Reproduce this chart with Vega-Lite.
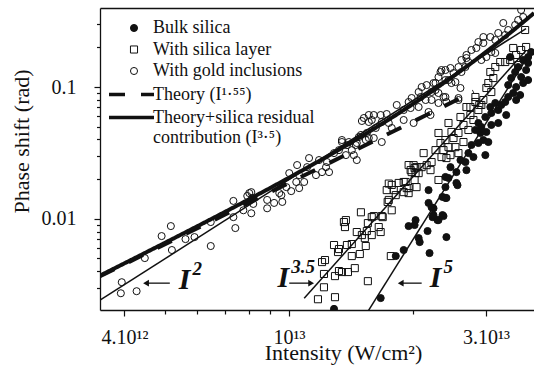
{
  "$schema": "https://vega.github.io/schema/vega-lite/v6.json",
  "width": 434,
  "height": 302,
  "autosize": {"type": "none"},
  "padding": {"left": 100, "top": 8, "right": 0, "bottom": 60},
  "background": "white",
  "config": {
    "view": {"stroke": null},
    "font": "Liberation Serif",
    "axis": {"grid": false, "domainColor": "#111", "domainWidth": 1.3, "tickColor": "#111", "tickWidth": 1.2, "labelColor": "#111", "titleColor": "#111", "labelFont": "Liberation Serif", "titleFont": "Liberation Serif", "titleFontWeight": "normal"},
    "legend": {"labelFont": "Liberation Serif", "labelColor": "#111", "labelFontSize": 18, "labelLimit": 400, "padding": 0}
  },
  "datasets": {
    "pts": [
      {"I":3.94,"phi":0.0033,"sample":"With gold inclusions"},{"I":3.92,"phi":0.00272,"sample":"With gold inclusions"},{"I":4.28,"phi":0.00282,"sample":"With gold inclusions"},{"I":4.48,"phi":0.00503,"sample":"With gold inclusions"},{"I":4.92,"phi":0.00739,"sample":"With gold inclusions"},{"I":5.18,"phi":0.0088,"sample":"With gold inclusions"},{"I":5.21,"phi":0.00579,"sample":"With gold inclusions"},{"I":5.62,"phi":0.00701,"sample":"With gold inclusions"},{"I":5.91,"phi":0.00726,"sample":"With gold inclusions"},{"I":6.47,"phi":0.00944,"sample":"With gold inclusions"},{"I":6.47,"phi":0.00621,"sample":"With gold inclusions"},{"I":7.34,"phi":0.01366,"sample":"With gold inclusions"},{"I":7.34,"phi":0.01029,"sample":"With gold inclusions"},{"I":7.42,"phi":0.0085,"sample":"With gold inclusions"},{"I":7.93,"phi":0.0149,"sample":"With gold inclusions"},{"I":8.11,"phi":0.01593,"sample":"With gold inclusions"},{"I":7.76,"phi":0.0116,"sample":"With gold inclusions"},{"I":8.11,"phi":0.01101,"sample":"With gold inclusions"},{"I":8.2,"phi":0.01296,"sample":"With gold inclusions"},{"I":8.86,"phi":0.01201,"sample":"With gold inclusions"},{"I":8.86,"phi":0.0139,"sample":"With gold inclusions"},{"I":8.02,"phi":0.01566,"sample":"With gold inclusions"},{"I":8.15,"phi":0.01439,"sample":"With gold inclusions"},{"I":9.21,"phi":0.01319,"sample":"With gold inclusions"},{"I":9.59,"phi":0.01512,"sample":"With gold inclusions"},{"I":9.64,"phi":0.01342,"sample":"With gold inclusions"},{"I":10.02,"phi":0.02221,"sample":"With gold inclusions"},{"I":10.47,"phi":0.02557,"sample":"With gold inclusions"},{"I":10.59,"phi":0.02145,"sample":"With gold inclusions"},{"I":10.42,"phi":0.01902,"sample":"With gold inclusions"},{"I":10.13,"phi":0.01621,"sample":"With gold inclusions"},{"I":11.07,"phi":0.02466,"sample":"With gold inclusions"},{"I":11.19,"phi":0.02889,"sample":"With gold inclusions"},{"I":11.63,"phi":0.02145,"sample":"With gold inclusions"},{"I":11.83,"phi":0.0279,"sample":"With gold inclusions"},{"I":12.3,"phi":0.02466,"sample":"With gold inclusions"},{"I":12.03,"phi":0.0226,"sample":"With gold inclusions"},{"I":12.51,"phi":0.0226,"sample":"With gold inclusions"},{"I":12.37,"phi":0.02694,"sample":"With gold inclusions"},{"I":12.86,"phi":0.03151,"sample":"With gold inclusions"},{"I":13.22,"phi":0.0332,"sample":"With gold inclusions"},{"I":13.44,"phi":0.03824,"sample":"With gold inclusions"},{"I":13.82,"phi":0.03622,"sample":"With gold inclusions"},{"I":13.74,"phi":0.03043,"sample":"With gold inclusions"},{"I":14.2,"phi":0.0332,"sample":"With gold inclusions"},{"I":14.36,"phi":0.03043,"sample":"With gold inclusions"},{"I":14.6,"phi":0.03758,"sample":"With gold inclusions"},{"I":14.94,"phi":0.04326,"sample":"With gold inclusions"},{"I":15.35,"phi":0.0396,"sample":"With gold inclusions"},{"I":15.61,"phi":0.04101,"sample":"With gold inclusions"},{"I":14.6,"phi":0.0279,"sample":"With gold inclusions"},{"I":15.02,"phi":0.05523,"sample":"With gold inclusions"},{"I":15.61,"phi":0.06131,"sample":"With gold inclusions"},{"I":15.87,"phi":0.0562,"sample":"With gold inclusions"},{"I":16.23,"phi":0.04888,"sample":"With gold inclusions"},{"I":15.44,"phi":0.04479,"sample":"With gold inclusions"},{"I":10.59,"phi":0.01709,"sample":"With gold inclusions"},{"I":10.89,"phi":0.01902,"sample":"With gold inclusions"},{"I":9.86,"phi":0.01739,"sample":"With gold inclusions"},{"I":9.48,"phi":0.01566,"sample":"With gold inclusions"},{"I":15.19,"phi":0.0582,"sample":"With gold inclusions"},{"I":15.61,"phi":0.05427,"sample":"With gold inclusions"},{"I":16.05,"phi":0.06131,"sample":"With gold inclusions"},{"I":16.68,"phi":0.06131,"sample":"With gold inclusions"},{"I":17.25,"phi":0.06239,"sample":"With gold inclusions"},{"I":16.78,"phi":0.05427,"sample":"With gold inclusions"},{"I":17.45,"phi":0.05333,"sample":"With gold inclusions"},{"I":17.74,"phi":0.04888,"sample":"With gold inclusions"},{"I":18.24,"phi":0.07305,"sample":"With gold inclusions"},{"I":18.96,"phi":0.0669,"sample":"With gold inclusions"},{"I":19.49,"phi":0.07697,"sample":"With gold inclusions"},{"I":19.82,"phi":0.08253,"sample":"With gold inclusions"},{"I":20.61,"phi":0.09165,"sample":"With gold inclusions"},{"I":20.96,"phi":0.1,"sample":"With gold inclusions"},{"I":21.55,"phi":0.1035,"sample":"With gold inclusions"},{"I":20.84,"phi":0.08398,"sample":"With gold inclusions"},{"I":21.43,"phi":0.0797,"sample":"With gold inclusions"},{"I":20.61,"phi":0.07049,"sample":"With gold inclusions"},{"I":19.71,"phi":0.06928,"sample":"With gold inclusions"},{"I":21.78,"phi":0.06461,"sample":"With gold inclusions"},{"I":22.02,"phi":0.06131,"sample":"With gold inclusions"},{"I":22.15,"phi":0.09165,"sample":"With gold inclusions"},{"I":22.64,"phi":0.1072,"sample":"With gold inclusions"},{"I":23.02,"phi":0.09006,"sample":"With gold inclusions"},{"I":23.67,"phi":0.08398,"sample":"With gold inclusions"},{"I":24.06,"phi":0.07697,"sample":"With gold inclusions"},{"I":23.28,"phi":0.13,"sample":"With gold inclusions"},{"I":23.93,"phi":0.1346,"sample":"With gold inclusions"},{"I":24.61,"phi":0.1394,"sample":"With gold inclusions"},{"I":25.03,"phi":0.1277,"sample":"With gold inclusions"},{"I":24.34,"phi":0.113,"sample":"With gold inclusions"},{"I":25.3,"phi":0.1091,"sample":"With gold inclusions"},{"I":25.73,"phi":0.0797,"sample":"With gold inclusions"},{"I":26.16,"phi":0.13,"sample":"With gold inclusions"},{"I":26.75,"phi":0.1418,"sample":"With gold inclusions"},{"I":26.9,"phi":0.166,"sample":"With gold inclusions"},{"I":13.44,"phi":0.0396,"sample":"With gold inclusions"},{"I":13.97,"phi":0.03824,"sample":"With gold inclusions"},{"I":14.52,"phi":0.03629,"sample":"With gold inclusions"},{"I":14.77,"phi":0.04173,"sample":"With gold inclusions"},{"I":16.78,"phi":0.03824,"sample":"With gold inclusions"},{"I":16.05,"phi":0.04101,"sample":"With gold inclusions"},{"I":20.04,"phi":0.05333,"sample":"With gold inclusions"},{"I":18.96,"phi":0.0562,"sample":"With gold inclusions"},{"I":36.49,"phi":0.3844,"sample":"With gold inclusions"},{"I":33.03,"phi":0.3062,"sample":"With gold inclusions"},{"I":33.95,"phi":0.2709,"sample":"With gold inclusions"},{"I":35.29,"phi":0.2958,"sample":"With gold inclusions"},{"I":35.89,"phi":0.3227,"sample":"With gold inclusions"},{"I":36.9,"phi":0.34,"sample":"With gold inclusions"},{"I":32.12,"phi":0.2571,"sample":"With gold inclusions"},{"I":31.59,"phi":0.2274,"sample":"With gold inclusions"},{"I":30.73,"phi":0.2396,"sample":"With gold inclusions"},{"I":29.56,"phi":0.2158,"sample":"With gold inclusions"},{"I":28.75,"phi":0.2196,"sample":"With gold inclusions"},{"I":28.43,"phi":0.1978,"sample":"With gold inclusions"},{"I":27.66,"phi":0.191,"sample":"With gold inclusions"},{"I":26.9,"phi":0.1751,"sample":"With gold inclusions"},{"I":26.16,"phi":0.1603,"sample":"With gold inclusions"},{"I":27.2,"phi":0.1548,"sample":"With gold inclusions"},{"I":25.73,"phi":0.1418,"sample":"With gold inclusions"},{"I":23.41,"phi":0.1346,"sample":"With gold inclusions"},{"I":23.02,"phi":0.1191,"sample":"With gold inclusions"},{"I":23.93,"phi":0.113,"sample":"With gold inclusions"},{"I":22.39,"phi":0.1072,"sample":"With gold inclusions"},{"I":22.64,"phi":0.0949,"sample":"With gold inclusions"},{"I":24.75,"phi":0.1072,"sample":"With gold inclusions"},{"I":26.02,"phi":0.0983,"sample":"With gold inclusions"},{"I":23.93,"phi":0.084,"sample":"With gold inclusions"},{"I":22.15,"phi":0.0797,"sample":"With gold inclusions"},{"I":23.02,"phi":0.07564,"sample":"With gold inclusions"},{"I":30.06,"phi":0.1689,"sample":"With gold inclusions"},{"I":29.23,"phi":0.1603,"sample":"With gold inclusions"},{"I":30.9,"phi":0.1844,"sample":"With gold inclusions"},{"I":31.59,"phi":0.1813,"sample":"With gold inclusions"},{"I":25.73,"phi":0.0825,"sample":"With gold inclusions"},{"I":29.56,"phi":0.2396,"sample":"With gold inclusions"},{"I":33.39,"phi":0.2483,"sample":"With gold inclusions"},
      {"I":11.76,"phi":0.00245,"sample":"With silica layer"},{"I":12.93,"phi":0.00254,"sample":"With silica layer"},{"I":12.16,"phi":0.00302,"sample":"With silica layer"},{"I":12.93,"phi":0.00367,"sample":"With silica layer"},{"I":12.16,"phi":0.00381,"sample":"With silica layer"},{"I":13.22,"phi":0.00401,"sample":"With silica layer"},{"I":13.44,"phi":0.00394,"sample":"With silica layer"},{"I":13.9,"phi":0.00394,"sample":"With silica layer"},{"I":14.44,"phi":0.00422,"sample":"With silica layer"},{"I":15.53,"phi":0.00336,"sample":"With silica layer"},{"I":12.03,"phi":0.00469,"sample":"With silica layer"},{"I":12.23,"phi":0.00486,"sample":"With silica layer"},{"I":12.86,"phi":0.00632,"sample":"With silica layer"},{"I":13.22,"phi":0.00589,"sample":"With silica layer"},{"I":13.15,"phi":0.00559,"sample":"With silica layer"},{"I":13.82,"phi":0.00632,"sample":"With silica layer"},{"I":14.2,"phi":0.00643,"sample":"With silica layer"},{"I":14.2,"phi":0.00521,"sample":"With silica layer"},{"I":14.85,"phi":0.0054,"sample":"With silica layer"},{"I":15.35,"phi":0.00621,"sample":"With silica layer"},{"I":15.27,"phi":0.00713,"sample":"With silica layer"},{"I":15.02,"phi":0.00752,"sample":"With silica layer"},{"I":15.87,"phi":0.00752,"sample":"With silica layer"},{"I":14.6,"phi":0.00793,"sample":"With silica layer"},{"I":15.44,"phi":0.00807,"sample":"With silica layer"},{"I":13.67,"phi":0.00865,"sample":"With silica layer"},{"I":13.59,"phi":0.00944,"sample":"With silica layer"},{"I":13.74,"phi":0.00977,"sample":"With silica layer"},{"I":14.94,"phi":0.0112,"sample":"With silica layer"},{"I":15.53,"phi":0.00927,"sample":"With silica layer"},{"I":15.87,"phi":0.01029,"sample":"With silica layer"},{"I":16.5,"phi":0.00865,"sample":"With silica layer"},{"I":16.68,"phi":0.00793,"sample":"With silica layer"},{"I":16.87,"phi":0.01029,"sample":"With silica layer"},{"I":17.74,"phi":0.0116,"sample":"With silica layer"},{"I":17.34,"phi":0.01342,"sample":"With silica layer"},{"I":17.65,"phi":0.00521,"sample":"With silica layer"},{"I":17.45,"phi":0.0139,"sample":"With silica layer"},{"I":18.96,"phi":0.01593,"sample":"With silica layer"},{"I":19.49,"phi":0.01566,"sample":"With silica layer"},{"I":17.25,"phi":0.0165,"sample":"With silica layer"},{"I":17.74,"phi":0.01806,"sample":"With silica layer"},{"I":16.05,"phi":0.01048,"sample":"With silica layer"},{"I":16.78,"phi":0.01048,"sample":"With silica layer"},{"I":17.45,"phi":0.0185,"sample":"With silica layer"},{"I":17.94,"phi":0.0165,"sample":"With silica layer"},{"I":18.44,"phi":0.0187,"sample":"With silica layer"},{"I":19.17,"phi":0.01902,"sample":"With silica layer"},{"I":19.49,"phi":0.01709,"sample":"With silica layer"},{"I":18.14,"phi":0.01512,"sample":"With silica layer"},{"I":19.71,"phi":0.0234,"sample":"With silica layer"},{"I":20.04,"phi":0.02553,"sample":"With silica layer"},{"I":20.37,"phi":0.02466,"sample":"With silica layer"},{"I":20.26,"phi":0.02221,"sample":"With silica layer"},{"I":21.19,"phi":0.03151,"sample":"With silica layer"},{"I":19.49,"phi":0.02557,"sample":"With silica layer"},{"I":20.15,"phi":0.02423,"sample":"With silica layer"},{"I":19.82,"phi":0.0226,"sample":"With silica layer"},{"I":20.61,"phi":0.02221,"sample":"With silica layer"},{"I":20.96,"phi":0.02466,"sample":"With silica layer"},{"I":21.55,"phi":0.02553,"sample":"With silica layer"},{"I":22.15,"phi":0.02694,"sample":"With silica layer"},{"I":18.96,"phi":0.01902,"sample":"With silica layer"},{"I":19.28,"phi":0.01709,"sample":"With silica layer"},{"I":20.15,"phi":0.0197,"sample":"With silica layer"},{"I":20.37,"phi":0.01739,"sample":"With silica layer"},{"I":23.02,"phi":0.0197,"sample":"With silica layer"},{"I":23.28,"phi":0.03758,"sample":"With silica layer"},{"I":23.67,"phi":0.0332,"sample":"With silica layer"},{"I":23.93,"phi":0.0396,"sample":"With silica layer"},{"I":24.34,"phi":0.03498,"sample":"With silica layer"},{"I":23.41,"phi":0.0294,"sample":"With silica layer"},{"I":24.06,"phi":0.02889,"sample":"With silica layer"},{"I":24.61,"phi":0.03043,"sample":"With silica layer"},{"I":25.03,"phi":0.04101,"sample":"With silica layer"},{"I":25.3,"phi":0.03498,"sample":"With silica layer"},{"I":24.75,"phi":0.04558,"sample":"With silica layer"},{"I":25.73,"phi":0.04479,"sample":"With silica layer"},{"I":26.02,"phi":0.05922,"sample":"With silica layer"},{"I":26.46,"phi":0.05151,"sample":"With silica layer"},{"I":27.2,"phi":0.0472,"sample":"With silica layer"},{"I":26.9,"phi":0.07049,"sample":"With silica layer"},{"I":27.5,"phi":0.06131,"sample":"With silica layer"},{"I":27.97,"phi":0.0562,"sample":"With silica layer"},{"I":28.75,"phi":0.0669,"sample":"With silica layer"},{"I":28.28,"phi":0.07697,"sample":"With silica layer"},{"I":29.23,"phi":0.07305,"sample":"With silica layer"},{"I":22.64,"phi":0.0332,"sample":"With silica layer"},{"I":22.02,"phi":0.0234,"sample":"With silica layer"},{"I":23.02,"phi":0.04479,"sample":"With silica layer"},{"I":24.34,"phi":0.05333,"sample":"With silica layer"},{"I":26.46,"phi":0.03824,"sample":"With silica layer"},{"I":25.73,"phi":0.03151,"sample":"With silica layer"},{"I":37.31,"phi":0.2709,"sample":"With silica layer"},{"I":37.52,"phi":0.2013,"sample":"With silica layer"},{"I":36.49,"phi":0.191,"sample":"With silica layer"},{"I":35.49,"phi":0.1751,"sample":"With silica layer"},{"I":34.33,"phi":0.1603,"sample":"With silica layer"},{"I":33.39,"phi":0.1548,"sample":"With silica layer"},{"I":32.48,"phi":0.1548,"sample":"With silica layer"},{"I":31.59,"phi":0.1418,"sample":"With silica layer"},{"I":30.73,"phi":0.13,"sample":"With silica layer"},{"I":31.25,"phi":0.117,"sample":"With silica layer"},{"I":30.39,"phi":0.1072,"sample":"With silica layer"},{"I":30.06,"phi":0.0983,"sample":"With silica layer"},{"I":30.9,"phi":0.09165,"sample":"With silica layer"},{"I":29.56,"phi":0.0797,"sample":"With silica layer"},{"I":28.9,"phi":0.07305,"sample":"With silica layer"},{"I":27.5,"phi":0.07049,"sample":"With silica layer"},{"I":28.28,"phi":0.08398,"sample":"With silica layer"},{"I":34.91,"phi":0.1978,"sample":"With silica layer"},{"I":35.89,"phi":0.1469,"sample":"With silica layer"},
      {"I":16.68,"phi":0.0025,"sample":"Bulk silica"},{"I":12.86,"phi":0.00207,"sample":"Bulk silica"},{"I":18.14,"phi":0.00521,"sample":"Bulk silica"},{"I":18.96,"phi":0.00579,"sample":"Bulk silica"},{"I":19.49,"phi":0.0088,"sample":"Bulk silica"},{"I":20.26,"phi":0.00977,"sample":"Bulk silica"},{"I":20.61,"phi":0.00713,"sample":"Bulk silica"},{"I":20.73,"phi":0.00665,"sample":"Bulk silica"},{"I":21.9,"phi":0.00549,"sample":"Bulk silica"},{"I":21.66,"phi":0.00807,"sample":"Bulk silica"},{"I":22.27,"phi":0.01029,"sample":"Bulk silica"},{"I":22.39,"phi":0.01201,"sample":"Bulk silica"},{"I":21.78,"phi":0.01319,"sample":"Bulk silica"},{"I":22.89,"phi":0.00977,"sample":"Bulk silica"},{"I":23.67,"phi":0.01048,"sample":"Bulk silica"},{"I":24.06,"phi":0.00726,"sample":"Bulk silica"},{"I":23.54,"phi":0.01465,"sample":"Bulk silica"},{"I":23.93,"phi":0.01739,"sample":"Bulk silica"},{"I":25.59,"phi":0.018,"sample":"Bulk silica"},{"I":23.93,"phi":0.01439,"sample":"Bulk silica"},{"I":20.15,"phi":0.00896,"sample":"Bulk silica"},{"I":22.39,"phi":0.01066,"sample":"Bulk silica"},{"I":23.02,"phi":0.00977,"sample":"Bulk silica"},{"I":23.54,"phi":0.01066,"sample":"Bulk silica"},{"I":22.15,"phi":0.01222,"sample":"Bulk silica"},{"I":21.78,"phi":0.0165,"sample":"Bulk silica"},{"I":24.06,"phi":0.01439,"sample":"Bulk silica"},{"I":23.93,"phi":0.02076,"sample":"Bulk silica"},{"I":24.34,"phi":0.0204,"sample":"Bulk silica"},{"I":25.44,"phi":0.0187,"sample":"Bulk silica"},{"I":24.61,"phi":0.02466,"sample":"Bulk silica"},{"I":25.44,"phi":0.0226,"sample":"Bulk silica"},{"I":26.02,"phi":0.0279,"sample":"Bulk silica"},{"I":26.75,"phi":0.02694,"sample":"Bulk silica"},{"I":27.2,"phi":0.03151,"sample":"Bulk silica"},{"I":27.97,"phi":0.0294,"sample":"Bulk silica"},{"I":26.9,"phi":0.0234,"sample":"Bulk silica"},{"I":27.66,"phi":0.03629,"sample":"Bulk silica"},{"I":28.75,"phi":0.03758,"sample":"Bulk silica"},{"I":29.56,"phi":0.0396,"sample":"Bulk silica"},{"I":29.07,"phi":0.04479,"sample":"Bulk silica"},{"I":29.89,"phi":0.03043,"sample":"Bulk silica"},{"I":30.06,"phi":0.04558,"sample":"Bulk silica"},{"I":30.39,"phi":0.03824,"sample":"Bulk silica"},{"I":28.28,"phi":0.0472,"sample":"Bulk silica"},{"I":28.75,"phi":0.05333,"sample":"Bulk silica"},{"I":29.23,"phi":0.04973,"sample":"Bulk silica"},{"I":29.89,"phi":0.05922,"sample":"Bulk silica"},{"I":30.9,"phi":0.06349,"sample":"Bulk silica"},{"I":30.73,"phi":0.07049,"sample":"Bulk silica"},{"I":32.12,"phi":0.0669,"sample":"Bulk silica"},{"I":32.66,"phi":0.07305,"sample":"Bulk silica"},{"I":33.58,"phi":0.06131,"sample":"Bulk silica"},{"I":33.39,"phi":0.07697,"sample":"Bulk silica"},{"I":31.59,"phi":0.07564,"sample":"Bulk silica"},{"I":35.49,"phi":0.0797,"sample":"Bulk silica"},{"I":32.12,"phi":0.05333,"sample":"Bulk silica"},{"I":30.9,"phi":0.05151,"sample":"Bulk silica"},{"I":37.94,"phi":0.1689,"sample":"Bulk silica"},{"I":36.9,"phi":0.1603,"sample":"Bulk silica"},{"I":35.89,"phi":0.1418,"sample":"Bulk silica"},{"I":35.29,"phi":0.13,"sample":"Bulk silica"},{"I":36.49,"phi":0.1191,"sample":"Bulk silica"},{"I":37.52,"phi":0.1346,"sample":"Bulk silica"},{"I":34.52,"phi":0.117,"sample":"Bulk silica"},{"I":33.95,"phi":0.1036,"sample":"Bulk silica"},{"I":35.49,"phi":0.1,"sample":"Bulk silica"},{"I":36.9,"phi":0.1072,"sample":"Bulk silica"},{"I":37.94,"phi":0.113,"sample":"Bulk silica"},{"I":34.91,"phi":0.09006,"sample":"Bulk silica"},{"I":36.29,"phi":0.08698,"sample":"Bulk silica"},{"I":33.95,"phi":0.08398,"sample":"Bulk silica"},{"I":37.94,"phi":0.1521,"sample":"Bulk silica"},{"I":34.33,"phi":0.1689,"sample":"Bulk silica"},{"I":38.58,"phi":0.1844,"sample":"Bulk silica"}
    ],
    "theory": [
      {"I":3.49,"phi":0.003658,"model":"Theory (I¹·⁵⁵)"},
      {"I":28,"phi":0.09225,"model":"Theory (I¹·⁵⁵)"},
      {"I":3.49,"phi":0.003702,"model":"Theory+silica residual contribution (I³·⁵)"},
      {"I":4,"phi":0.004589,"model":"Theory+silica residual contribution (I³·⁵)"},
      {"I":5,"phi":0.006541,"model":"Theory+silica residual contribution (I³·⁵)"},
      {"I":6,"phi":0.008764,"model":"Theory+silica residual contribution (I³·⁵)"},
      {"I":7,"phi":0.01126,"model":"Theory+silica residual contribution (I³·⁵)"},
      {"I":8,"phi":0.01403,"model":"Theory+silica residual contribution (I³·⁵)"},
      {"I":9,"phi":0.01709,"model":"Theory+silica residual contribution (I³·⁵)"},
      {"I":10,"phi":0.02045,"model":"Theory+silica residual contribution (I³·⁵)"},
      {"I":12,"phi":0.02812,"model":"Theory+silica residual contribution (I³·⁵)"},
      {"I":14,"phi":0.03718,"model":"Theory+silica residual contribution (I³·⁵)"},
      {"I":16,"phi":0.04781,"model":"Theory+silica residual contribution (I³·⁵)"},
      {"I":18,"phi":0.0602,"model":"Theory+silica residual contribution (I³·⁵)"},
      {"I":20,"phi":0.07456,"model":"Theory+silica residual contribution (I³·⁵)"},
      {"I":22,"phi":0.09112,"model":"Theory+silica residual contribution (I³·⁵)"},
      {"I":25,"phi":0.1206,"model":"Theory+silica residual contribution (I³·⁵)"},
      {"I":28,"phi":0.1565,"model":"Theory+silica residual contribution (I³·⁵)"},
      {"I":31,"phi":0.1998,"model":"Theory+silica residual contribution (I³·⁵)"},
      {"I":34,"phi":0.2515,"model":"Theory+silica residual contribution (I³·⁵)"},
      {"I":37,"phi":0.3126,"model":"Theory+silica residual contribution (I³·⁵)"},
      {"I":39.2,"phi":0.3642,"model":"Theory+silica residual contribution (I³·⁵)"}
    ],
    "fits": [
      {"I":3.49,"phi":0.00241,"law":"I2"},{"I":37.5,"phi":0.2781,"law":"I2"},
      {"I":10.89,"phi":0.002496,"law":"I3.5"},{"I":37.5,"phi":0.1891,"law":"I3.5"},
      {"I":15.3,"phi":0.001836,"law":"I5"},{"I":37.5,"phi":0.1624,"law":"I5"}
    ],
    "ann": [
      {"I":5.59,"phi":0.00342,"base":"I","sup":"2"},
      {"I":9.69,"phi":0.00354,"base":"I","sup":"3.5"},
      {"I":22.64,"phi":0.00354,"base":"I","sup":"5"}
    ],
    "arrows": [
      {"I":4.51,"I2":5.15,"phi":0.003246,"dir":"left"},
      {"I":11.32,"I2":10.02,"phi":0.003246,"dir":"right"},
      {"I":18.65,"I2":20.96,"phi":0.003246,"dir":"left"}
    ]
  },
  "layer": [
    {
      "encoding": {
        "x": {"field": "I", "type": "quantitative", "scale": {"type": "log", "domain": [3.49, 39.2], "nice": false},
          "axis": {"orient": "bottom", "values": [4,5,6,7,8,9,10,20,30], "labelExpr": "datum.value == 4 ? '4.10¹²' : datum.value == 10 ? '10¹³' : datum.value == 30 ? '3.10¹³' : ''",
            "tickSize": {"condition": {"test": "datum.value == 4 || datum.value == 10 || datum.value == 30", "value": 6}, "value": 4},
            "labelFontSize": 20, "labelBaseline": "alphabetic", "labelPadding": 27, "labelFlush": false, "labelOverlap": false,
            "title": "Intensity (W/cm²)", "titleFontSize": 22, "titleX": 243, "titleY": 49, "titleBaseline": "alphabetic", "titleAlign": "center"}},
        "y": {"field": "phi", "type": "quantitative", "scale": {"type": "log", "domain": [0.00203, 0.398], "nice": false},
          "axis": {"values": [0.003,0.004,0.005,0.006,0.007,0.008,0.009,0.01,0.02,0.03,0.04,0.05,0.06,0.07,0.08,0.09,0.1,0.2,0.3],
            "labelExpr": "datum.value == 0.01 ? '0.01' : datum.value == 0.1 ? '0.1' : ''",
            "tickSize": {"condition": {"test": "datum.value == 0.01 || datum.value == 0.1", "value": 6}, "value": 3.5},
            "labelFontSize": 20, "labelPadding": 18, "labelOverlap": false, "labelFlush": false,
            "title": "Phase shift (rad)", "titleFontSize": 22, "titleX": -72, "titleY": 133, "titleAngle": 270, "titleBaseline": "alphabetic", "titleAlign": "center"}}
      },
      "layer": [
        {
          "data": {"name": "pts"},
          "mark": {"type": "point", "opacity": 1, "strokeWidth": 1, "size": 50, "clip": true},
          "encoding": {
            "shape": {"field": "sample", "type": "nominal",
              "scale": {"domain": ["Bulk silica", "With silica layer", "With gold inclusions"], "range": ["circle", "square", "circle"]},
              "legend": {"title": null, "orient": "none", "legendX": 25, "legendY": 11, "labelOffset": 10, "rowPadding": 3.5, "symbolSize": 50, "symbolStrokeWidth": 1, "symbolOpacity": 1}},
            "fill": {"field": "sample", "type": "nominal",
              "scale": {"domain": ["Bulk silica", "With silica layer", "With gold inclusions"], "range": ["#111", "transparent", "transparent"]},
              "legend": {"title": null, "orient": "none", "legendX": 25, "legendY": 11, "labelOffset": 10, "rowPadding": 3.5, "symbolSize": 50, "symbolStrokeWidth": 1, "symbolOpacity": 1}},
            "stroke": {"field": "sample", "type": "nominal",
              "scale": {"domain": ["Bulk silica", "With silica layer", "With gold inclusions"], "range": ["#111", "#111", "#111"]},
              "legend": {"title": null, "orient": "none", "legendX": 25, "legendY": 11, "labelOffset": 10, "rowPadding": 3.5, "symbolSize": 50, "symbolStrokeWidth": 1, "symbolOpacity": 1}}
          }
        },
        {
          "data": {"name": "theory"},
          "transform": [{"filter": "indexof(datum.model, 'residual') < 0"}],
          "mark": {"type": "line", "color": "#111", "strokeWidth": 4, "clip": true},
          "encoding": {
            "strokeDash": {"field": "model", "type": "nominal",
              "scale": {"domain": ["Theory (I¹·⁵⁵)"], "range": [[16, 16]]},
              "legend": {"title": null, "orient": "none", "legendX": 7, "legendY": 62, "symbolType": "stroke", "symbolSize": 2025, "symbolStrokeWidth": 3.5, "symbolStrokeColor": "#111", "labelOffset": -3}}
          }
        },
        {
          "data": {"name": "theory"},
          "transform": [{"filter": "indexof(datum.model, 'residual') >= 0"}],
          "mark": {"type": "line", "color": "#111", "strokeWidth": 4, "clip": true},
          "encoding": {
            "strokeDash": {"field": "model", "type": "nominal",
              "scale": {"domain": ["Theory+silica residual contribution (I³·⁵)"], "range": [[1, 0]]},
              "legend": {"title": null, "orient": "none", "legendX": 7, "legendY": 85, "symbolType": "stroke", "symbolSize": 2025, "symbolStrokeWidth": 3.5, "symbolStrokeColor": "#111", "labelOffset": -3,
                "labelExpr": "['Theory+silica residual', 'contribution (I³·⁵)']"}}
          }
        },
        {
          "data": {"name": "arrows"},
          "mark": {"type": "rule", "color": "#111", "strokeWidth": 1.3},
          "encoding": {"x2": {"field": "I2"}}
        },
        {
          "data": {"name": "arrows"},
          "transform": [{"filter": "datum.dir == 'left'"}],
          "mark": {"type": "point", "shape": "triangle-left", "filled": true, "color": "#111", "opacity": 1, "size": 45}
        },
        {
          "data": {"name": "arrows"},
          "transform": [{"filter": "datum.dir == 'right'"}],
          "mark": {"type": "point", "shape": "triangle-right", "filled": true, "color": "#111", "opacity": 1, "size": 45}
        },
        {
          "data": {"name": "ann"},
          "mark": {"type": "text", "font": "Liberation Serif", "fontStyle": "italic", "fontWeight": "bold", "fontSize": 30, "color": "#111", "align": "center", "baseline": "middle"},
          "encoding": {"text": {"field": "base"}}
        },
        {
          "data": {"name": "ann"},
          "mark": {"type": "text", "font": "Liberation Serif", "fontStyle": "italic", "fontWeight": "bold", "fontSize": 19, "color": "#111", "align": "left", "baseline": "middle", "dx": 8, "dy": -11},
          "encoding": {"text": {"field": "sup"}}
        }
      ],
      "resolve": {"scale": {"strokeDash": "independent"}, "legend": {"strokeDash": "independent"}}
    },
    {
      "data": {"name": "fits"},
      "mark": {"type": "line", "color": "#111", "strokeWidth": 1.5, "clip": true},
      "encoding": {
        "x": {"field": "I", "type": "quantitative", "scale": {"type": "log", "domain": [3.49, 39.2], "nice": false},
          "axis": {"orient": "top", "labels": false, "ticks": false, "title": null}},
        "y": {"field": "phi", "type": "quantitative", "scale": {"type": "log", "domain": [0.00203, 0.398], "nice": false},
          "axis": {"values": [0.003,0.004,0.005,0.006,0.007,0.008,0.009,0.01,0.02,0.03,0.04,0.05,0.06,0.07,0.08,0.09,0.1,0.2,0.3],
            "labelExpr": "datum.value == 0.01 ? '0.01' : datum.value == 0.1 ? '0.1' : ''",
            "tickSize": {"condition": {"test": "datum.value == 0.01 || datum.value == 0.1", "value": 6}, "value": 3.5},
            "labelFontSize": 20, "labelPadding": 18, "labelOverlap": false, "labelFlush": false,
            "title": "Phase shift (rad)", "titleFontSize": 22, "titleX": -72, "titleY": 133, "titleAngle": 270, "titleBaseline": "alphabetic", "titleAlign": "center"}},
        "detail": {"field": "law", "type": "nominal"}
      }
    }
  ],
  "resolve": {"axis": {"x": "independent"}}
}
